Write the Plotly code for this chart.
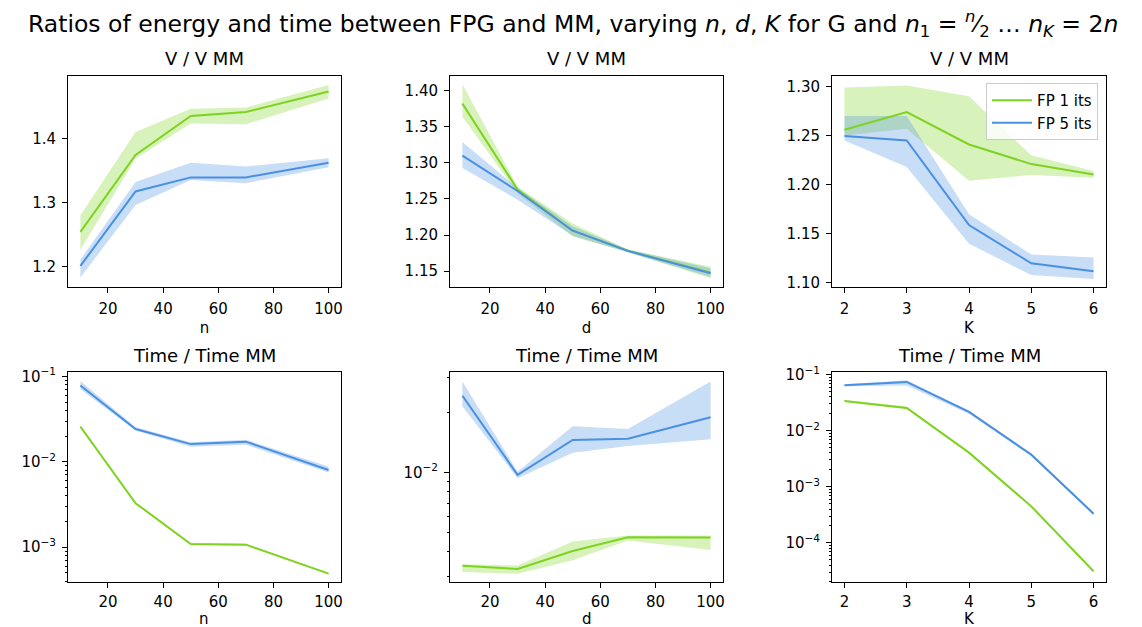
import math
import plotly.graph_objects as go

# x values
n_vals = [10, 30, 50, 70, 100]
d_vals = [10, 30, 50, 70, 100]
K_vals = [2, 3, 4, 5, 6]

# V / V MM vs n
v_n_fp1 = [1.254, 1.374, 1.435, 1.441, 1.473]
v_n_fp1_lo = [1.226, 1.368, 1.423, 1.422, 1.462]
v_n_fp1_hi = [1.280, 1.410, 1.446, 1.448, 1.483]
v_n_fp5 = [1.201, 1.317, 1.339, 1.339, 1.362]
v_n_fp5_lo = [1.183, 1.296, 1.335, 1.330, 1.355]
v_n_fp5_hi = [1.211, 1.332, 1.362, 1.356, 1.369]

# V / V MM vs d
v_d_fp1 = [1.382, 1.263, 1.206, 1.178, 1.148]
v_d_fp1_lo = [1.364, 1.258, 1.198, 1.176, 1.140]
v_d_fp1_hi = [1.409, 1.267, 1.216, 1.180, 1.156]
v_d_fp5 = [1.310, 1.261, 1.206, 1.178, 1.147]
v_d_fp5_lo = [1.293, 1.249, 1.199, 1.176, 1.142]
v_d_fp5_hi = [1.329, 1.265, 1.212, 1.180, 1.154]

# V / V MM vs K
v_K_fp1 = [1.256, 1.274, 1.241, 1.221, 1.2105]
v_K_fp1_lo = [1.250, 1.257, 1.204, 1.210, 1.207]
v_K_fp1_hi = [1.299, 1.301, 1.290, 1.230, 1.214]
v_K_fp5 = [1.2495, 1.245, 1.159, 1.120, 1.112]
v_K_fp5_lo = [1.245, 1.218, 1.140, 1.108, 1.104]
v_K_fp5_hi = [1.270, 1.270, 1.170, 1.129, 1.126]

# Time / Time MM vs n
t_n_fp1 = [0.0258, 0.00327, 0.00109, 0.00107, 0.00049]
t_n_fp1_lo = [0.0252, 0.00320, 0.00106, 0.00104, 0.00048]
t_n_fp1_hi = [0.0264, 0.00334, 0.00112, 0.00110, 0.00050]
t_n_fp5 = [0.0783, 0.0242, 0.0161, 0.0172, 0.0080]
t_n_fp5_lo = [0.0705, 0.0232, 0.0150, 0.0158, 0.0075]
t_n_fp5_hi = [0.0880, 0.0253, 0.0169, 0.0181, 0.0088]

# Time / Time MM vs d
t_d_fp1 = [0.00339, 0.00326, 0.00402, 0.00472, 0.00470]
t_d_fp1_lo = [0.00315, 0.00309, 0.00361, 0.00454, 0.00407]
t_d_fp1_hi = [0.00345, 0.00340, 0.00449, 0.00481, 0.00481]
t_d_fp5 = [0.0244, 0.00973, 0.0146, 0.0148, 0.0190]
t_d_fp5_lo = [0.0216, 0.00937, 0.0126, 0.0136, 0.0147]
t_d_fp5_hi = [0.0288, 0.0101, 0.0171, 0.0166, 0.0288]

# Time / Time MM vs K
t_K_fp1 = [0.0339, 0.0254, 0.00405, 0.000446, 0.000031]
t_K_fp1_lo = [0.0325, 0.0240, 0.00390, 0.000430, 0.000030]
t_K_fp1_hi = [0.0352, 0.0270, 0.00420, 0.000462, 0.000032]
t_K_fp5 = [0.0645, 0.074, 0.0216, 0.00373, 0.00033]
t_K_fp5_lo = [0.0620, 0.0640, 0.0200, 0.00355, 0.00031]
t_K_fp5_hi = [0.0670, 0.0790, 0.0228, 0.00390, 0.00035]

GREEN = '#7ed321'
BLUE = '#4a90e2'
GREEN_FILL = 'rgba(126,211,33,0.3)'
BLUE_FILL = 'rgba(74,144,226,0.3)'
FONT = 'DejaVu Sans'

W, H = 1142, 627
OFF = 8  # page body margin
col_px = [(68, 341), (450, 723), (832, 1106)]
row_px = [(75.5, 287), (372, 582)]


def px_x(p):
    return (p - OFF) / W


def px_y(p):
    return 1 - (p - OFF) / H


fig = go.Figure()


def add_panel(i, x, lines, legend=False):
    ax = '' if i == 1 else str(i)
    for (y, lo, hi, col, fillcol, name) in lines:
        fig.add_trace(go.Scatter(x=x + x[::-1], y=hi + lo[::-1], fill='toself',
                                 fillcolor=fillcol, line=dict(width=0),
                                 mode='lines', hoverinfo='skip', showlegend=False,
                                 xaxis='x' + ax, yaxis='y' + ax))
    for (y, lo, hi, col, fillcol, name) in lines:
        fig.add_trace(go.Scatter(x=x, y=y, mode='lines', name=name,
                                 line=dict(color=col, width=2),
                                 showlegend=legend, xaxis='x' + ax, yaxis='y' + ax))


def series(fp1, fp1_lo, fp1_hi, fp5, fp5_lo, fp5_hi):
    return [(fp1, fp1_lo, fp1_hi, GREEN, GREEN_FILL, 'FP 1 its'),
            (fp5, fp5_lo, fp5_hi, BLUE, BLUE_FILL, 'FP 5 its')]


add_panel(1, n_vals, series(v_n_fp1, v_n_fp1_lo, v_n_fp1_hi, v_n_fp5, v_n_fp5_lo, v_n_fp5_hi))
add_panel(2, d_vals, series(v_d_fp1, v_d_fp1_lo, v_d_fp1_hi, v_d_fp5, v_d_fp5_lo, v_d_fp5_hi))
add_panel(3, K_vals, series(v_K_fp1, v_K_fp1_lo, v_K_fp1_hi, v_K_fp5, v_K_fp5_lo, v_K_fp5_hi), legend=True)
add_panel(4, n_vals, series(t_n_fp1, t_n_fp1_lo, t_n_fp1_hi, t_n_fp5, t_n_fp5_lo, t_n_fp5_hi))
add_panel(5, d_vals, series(t_d_fp1, t_d_fp1_lo, t_d_fp1_hi, t_d_fp5, t_d_fp5_lo, t_d_fp5_hi))
add_panel(6, K_vals, series(t_K_fp1, t_K_fp1_lo, t_K_fp1_hi, t_K_fp5, t_K_fp5_lo, t_K_fp5_hi))

x_labels = ['n', 'd', 'K', 'n', 'd', 'K']
x_ranges = [[5.5, 104.5], [5.5, 104.5], [1.8, 6.2]] * 2
y_ranges = [[1.168, 1.498], [1.128, 1.421], [1.0959, 1.3112],
            [-3.408, -0.949], [-2.552, -1.493], [-4.70, -0.954]]
titles = ['V / V MM'] * 3 + ['Time / Time MM'] * 3

sup = {-1: '\u22121', -2: '\u22122', -3: '\u22123', -4: '\u22124'}

axis_common = dict(showline=True, linecolor='black', linewidth=1, mirror=True,
                   ticks='outside', ticklen=5, tickwidth=1, tickcolor='black',
                   ticklabelstandoff=3, automargin=False,
                   showgrid=False, zeroline=False,
                   tickfont=dict(family=FONT, size=15, color='black'))

layout = {}
annotations = []
for i in range(6):
    r, c = divmod(i, 3)
    ax = '' if i == 0 else str(i + 1)
    x0, x1 = col_px[c]
    y0, y1 = row_px[r]
    xdom = [px_x(x0), px_x(x1)]
    ydom = [px_y(y1), px_y(y0)]
    xa = dict(axis_common, domain=xdom, range=x_ranges[i], anchor='y' + ax)
    if r == 0:
        xa['title'] = dict(text=x_labels[i], font=dict(family=FONT, size=15, color='black'), standoff=5)
    else:
        # bottom row labels sit at the page edge, keep them inside the window
        xa['ticklabelstandoff'] = 1
        annotations.append(dict(text=x_labels[i], x=(xdom[0] + xdom[1]) / 2, y=px_y(629),
                                xref='paper', yref='paper', xanchor='center', yanchor='bottom',
                                borderpad=0, showarrow=False,
                                font=dict(family=FONT, size=15, color='black')))
    if c == 2:
        xa['dtick'] = 1
    else:
        xa['tickvals'] = [20, 40, 60, 80, 100]
    ya = dict(axis_common, domain=ydom, range=y_ranges[i], anchor='x' + ax)
    if r == 0:
        ya['tickformat'] = '.1f' if c == 0 else '.2f'
        ya['dtick'] = 0.1 if c == 0 else 0.05
    else:
        ya['type'] = 'log'
        lo, hi = y_ranges[i]
        majors = [e for e in range(-5, 0) if lo <= e <= hi]
        ya['tickvals'] = [10 ** e for e in majors]
        ya['ticktext'] = ['10<sup>%s</sup>' % sup[e] for e in majors]
        minors = []
        for e in range(-6, 0):
            for m in range(2, 10):
                v = m * 10 ** e
                if lo <= math.log10(v) <= hi:
                    minors.append(v)
        ya['minor'] = dict(tickvals=minors, ticks='outside', ticklen=2.5, tickcolor='black', tickwidth=1)
    layout['xaxis' + ax] = xa
    layout['yaxis' + ax] = ya
    annotations.append(dict(text=titles[i], x=(xdom[0] + xdom[1]) / 2, y=ydom[1] + 4 / H,
                            xref='paper', yref='paper', xanchor='center', yanchor='bottom',
                            showarrow=False, font=dict(family=FONT, size=18, color='black')))

annotations.append(dict(
    text='Ratios of energy and time between FPG and MM, varying <i>n</i>, <i>d</i>, <i>K</i> for G and '
         '<i>n</i><sub>1</sub> = <sup><i>n</i></sup>\u2044<sub>2</sub> \u2026 <i>n</i><sub><i>K</i></sub> = 2<i>n</i>',
    x=px_x(573), y=px_y(24), xref='paper', yref='paper', xanchor='center', yanchor='middle',
    showarrow=False, font=dict(family=FONT, size=23.5, color='black')))

fig.update_layout(**layout)
fig.update_layout(
    annotations=annotations,
    width=W, height=H,
    margin=dict(l=0, r=0, t=0, b=0),
    plot_bgcolor='white',
    paper_bgcolor='white',
    legend=dict(x=px_x(1098), y=px_y(83), xanchor='right', yanchor='top',
                itemwidth=40,
                bgcolor='rgba(255,255,255,0.8)', bordercolor='#cccccc', borderwidth=1,
                font=dict(family=FONT, size=15, color='black')),
)

fig.write_html("out.html")
